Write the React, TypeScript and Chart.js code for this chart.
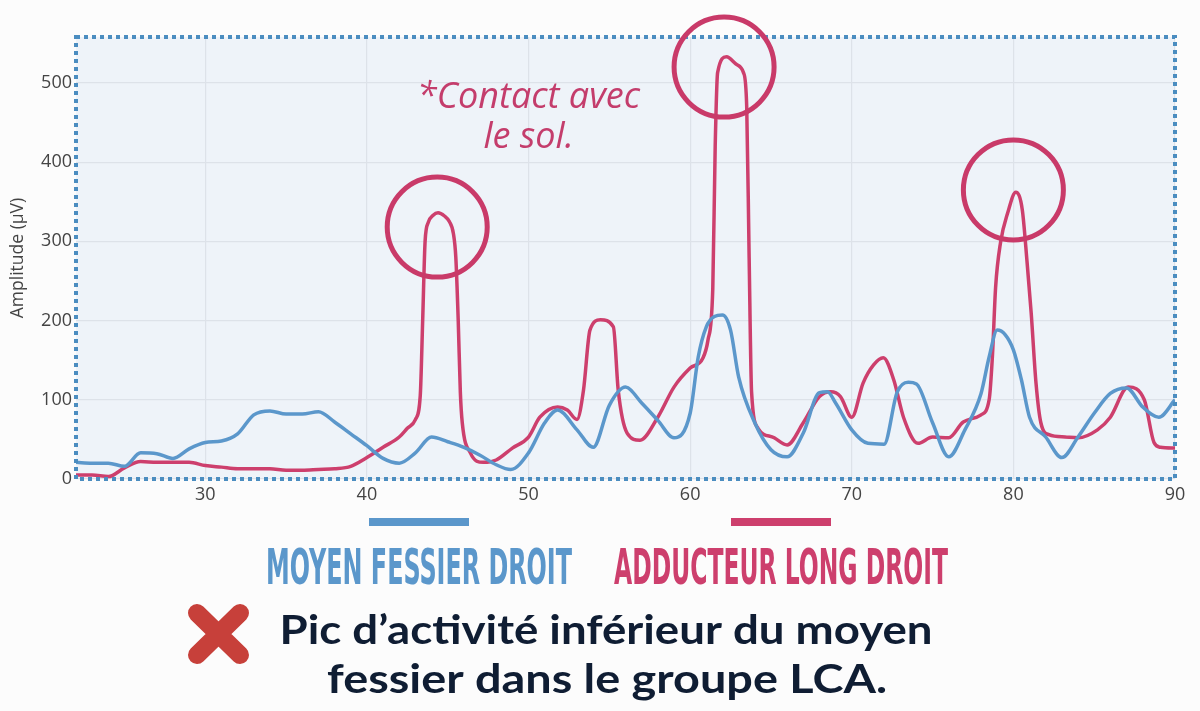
import { useEffect, useRef } from "react";
import { Chart, registerables } from "chart.js";

Chart.register(...registerables);

// Moyen fessier droit : temps / amplitude (µV)
const fessierTime = [
  22, 23, 24, 25, 26, 27, 28, 29, 30, 31, 32, 33, 34, 35, 36, 37, 38, 39, 40, 41, 42, 43, 44, 45, 46, 47, 48,
  48.9, 50, 51, 51.8, 53, 54, 55, 56, 57, 58, 59, 60, 60.5, 61, 61.5, 62, 62.5, 63, 64, 65, 66, 67, 68, 68.5,
  69, 70, 71, 72, 72.8, 73.5, 74, 75, 76, 77, 78, 78.5, 79, 79.5, 80, 80.5, 81, 82, 83, 84, 85, 86, 87, 88,
  89, 90,
];
const fessierAmp = [
  21, 20, 20, 16, 33, 32, 26, 38, 46, 48, 57, 81, 86, 82, 82, 85, 72, 57, 42, 26, 20, 33, 53, 47, 40, 30, 18,
  12, 33, 71, 87, 62, 40, 93, 116, 96, 74, 52, 83, 154, 192, 205, 207, 188, 129, 71, 37, 28, 58, 109, 110,
  96, 62, 45, 44, 109, 122, 120, 71, 28, 62, 108, 154, 188, 182, 163, 125, 78, 53, 27, 53, 83, 108, 115, 91,
  78, 100,
];

// Adducteur long droit
const adducteurTime = [
  22, 23, 24, 25, 26, 27, 28, 29, 30, 31, 32, 33, 34, 35, 36, 37, 38, 39, 40, 41, 42, 42.5, 43, 43.3, 43.45,
  43.6, 43.8, 44.1, 44.4, 44.8, 45.1, 45.35, 45.5, 45.65, 45.78, 45.9, 46.4, 47.2, 48, 49, 50, 50.7, 51.8,
  52.4, 53, 53.4, 53.8, 54.45, 55.25, 55.55, 56.1, 56.9, 58, 59, 60, 60.8, 61.1, 61.4, 61.55, 61.7, 62.25,
  62.9, 63.3, 63.5, 63.65, 63.8, 64.2, 65.2, 66, 67, 68, 68.7, 69.3, 70, 70.7, 71.35, 71.95, 72.6, 73.2, 74.1,
  75, 76, 76.9, 78, 78.5, 78.7, 78.9, 79.2, 79.65, 80.15, 80.55, 80.85, 81.1, 81.4, 81.7, 82.2, 83.2, 84, 85.2,
  86, 87.1, 88.1, 88.7, 89.1, 90,
];
const adducteurAmp = [
  5, 5, 3, 14, 22, 21, 21, 21, 17, 15, 13, 13, 13, 11, 11, 12, 13, 16, 27, 40, 53, 64, 75, 105, 200,
  300, 324, 333, 336, 332, 325, 310, 280, 200, 110, 71, 33, 21, 24, 39, 53, 78, 91,
  87, 75, 112, 188, 201, 192, 112, 58, 49, 78, 116, 140, 153, 175, 240, 420, 513, 533,
  523, 513, 470, 280, 110, 64, 52, 43, 71, 104, 110, 104, 78, 121, 144, 153, 125, 78, 45,
  53, 52, 72, 81, 100, 154, 242, 298, 336, 362, 340, 273, 210, 121, 71, 56, 53, 52, 62,
  78, 116, 100, 46, 40, 39,
];

const seriesLabels = ["MOYEN FESSIER DROIT", "ADDUCTEUR LONG DROIT"];
const seriesColors = ["#5b97cb", "#cd3f6d"];

// pics entourés (temps, amplitude)
const peakTime = [44.35, 62.1, 80.0];
const peakAmp = [318, 520, 365];

const noteLines = ["*Contact avec", "le sol."];
const noteTime = 50;
const noteAmp = [468, 418];

const captionLines = ["Pic d’activité inférieur du moyen", "fessier dans le groupe LCA."];

function fitText(ctx: CanvasRenderingContext2D, text: string, cx: number, y: number, w: number, font: string, color: string) {
  ctx.save();
  ctx.font = font;
  ctx.fillStyle = color;
  ctx.textAlign = "center";
  ctx.textBaseline = "alphabetic";
  const m = ctx.measureText(text).width;
  ctx.translate(cx, y);
  ctx.scale(w / m, 1);
  ctx.fillText(text, 0, 0);
  ctx.restore();
}

const decorPlugin = {
  id: "decor",
  beforeDraw(chart: any) {
    const { ctx, chartArea: a, width, height } = chart;
    ctx.save();
    ctx.fillStyle = "#fcfcfc";
    ctx.fillRect(0, 0, width, height);
    ctx.fillStyle = "#eef3f9";
    ctx.fillRect(a.left, a.top, a.right - a.left, a.bottom - a.top);
    ctx.restore();
  },
  afterDatasetsDraw(chart: any) {
    const { ctx, chartArea: a } = chart;
    ctx.save();
    ctx.strokeStyle = "#4b8dc0";
    ctx.lineWidth = 4;
    ctx.setLineDash([4, 4]);
    ctx.strokeRect(a.left, a.top, a.right - a.left, a.bottom - a.top);
    ctx.restore();
  },
  afterDraw(chart: any) {
    const { ctx } = chart;
    const xs = chart.scales.x;
    const ys = chart.scales.y;

    // cercles autour des pics
    ctx.save();
    ctx.strokeStyle = "#c93a69";
    ctx.lineWidth = 5;
    peakTime.forEach((t, i) => {
      ctx.beginPath();
      ctx.arc(xs.getPixelForValue(t), ys.getPixelForValue(peakAmp[i]), 50, 0, Math.PI * 2);
      ctx.stroke();
    });

    // note
    ctx.fillStyle = "#c43d6c";
    ctx.font = 'italic 36px "Open Sans"';
    ctx.textAlign = "center";
    noteLines.forEach((line, i) => {
      ctx.fillText(line, xs.getPixelForValue(noteTime), ys.getPixelForValue(noteAmp[i]));
    });
    ctx.restore();

    // légende
    const legendCenters = [419, 781];
    const legendWidths = [306, 334];
    chart.data.datasets.forEach((ds: any, i: number) => {
      ctx.save();
      ctx.fillStyle = ds.borderColor;
      ctx.fillRect(legendCenters[i] - 50, 518, 100, 8);
      ctx.restore();
      fitText(ctx, ds.label, legendCenters[i], 584, legendWidths[i], 'bold 49px "DejaVu Sans Condensed"', ds.borderColor);
    });

    // croix rouge
    ctx.save();
    ctx.lineCap = "round";
    ctx.lineWidth = 18;
    ctx.strokeStyle = "#c7403a";
    ctx.beginPath();
    ctx.moveTo(197, 613);
    ctx.lineTo(240, 655);
    ctx.moveTo(240, 613);
    ctx.lineTo(197, 655);
    ctx.stroke();
    ctx.restore();

    fitText(ctx, captionLines[0], 606, 644, 653, "bold 40px Lato", "#0f1d33");
    fitText(ctx, captionLines[1], 607, 693, 560, "bold 40px Lato", "#0f1d33");
  },
};

export default function App() {
  const canvasRef = useRef<HTMLCanvasElement>(null);
  const chartRef = useRef<Chart | null>(null);

  useEffect(() => {
    const canvas = canvasRef.current;
    if (!canvas) return;
    if (chartRef.current) chartRef.current.destroy();

    Chart.defaults.font.family = '"Open Sans", sans-serif';

    chartRef.current = new Chart(canvas, {
      type: "line",
      data: {
        datasets: [
          {
            label: seriesLabels[0],
            data: fessierTime.map((t, i) => ({ x: t, y: fessierAmp[i] })),
            borderColor: seriesColors[0],
            borderWidth: 3.5,
            pointRadius: 0,
            cubicInterpolationMode: "monotone",
            fill: false,
          },
          {
            label: seriesLabels[1],
            data: adducteurTime.map((t, i) => ({ x: t, y: adducteurAmp[i] })),
            borderColor: seriesColors[1],
            borderWidth: 3.5,
            pointRadius: 0,
            cubicInterpolationMode: "monotone",
            fill: false,
          },
        ],
      },
      options: {
        animation: false,
        responsive: true,
        maintainAspectRatio: false,
        layout: { padding: { top: 37, right: 25, left: 0, bottom: 0 } },
        plugins: {
          legend: { display: false },
          tooltip: { enabled: false },
        },
        scales: {
          x: {
            type: "linear",
            min: 22,
            max: 90,
            afterFit: (s: any) => {
              s.height = 232;
            },
            grid: { color: "#dde2e9", lineWidth: 1.2, drawTicks: false },
            border: { display: false },
            ticks: { stepSize: 10, includeBounds: false, padding: 5, color: "#444", font: { size: 18 } },
          },
          y: {
            type: "linear",
            min: 0,
            max: 558,
            afterFit: (s: any) => {
              s.width = 76;
            },
            grid: { color: "#dde2e9", lineWidth: 1.2, drawTicks: false },
            border: { display: false },
            ticks: { stepSize: 100, includeBounds: false, padding: 4, color: "#444", font: { size: 18 } },
            title: {
              display: true,
              text: "Amplitude (µV)",
              color: "#444",
              font: { size: 17.5 },
              padding: { top: 8, bottom: 0 },
            },
          },
        },
      },
      plugins: [decorPlugin],
    } as any);

    return () => {
      if (chartRef.current) {
        chartRef.current.destroy();
        chartRef.current = null;
      }
    };
  }, []);

  return (
    <div style={{ position: "absolute", left: 0, top: 0, width: 1200, height: 711 }}>
      <canvas ref={canvasRef} />
    </div>
  );
}
